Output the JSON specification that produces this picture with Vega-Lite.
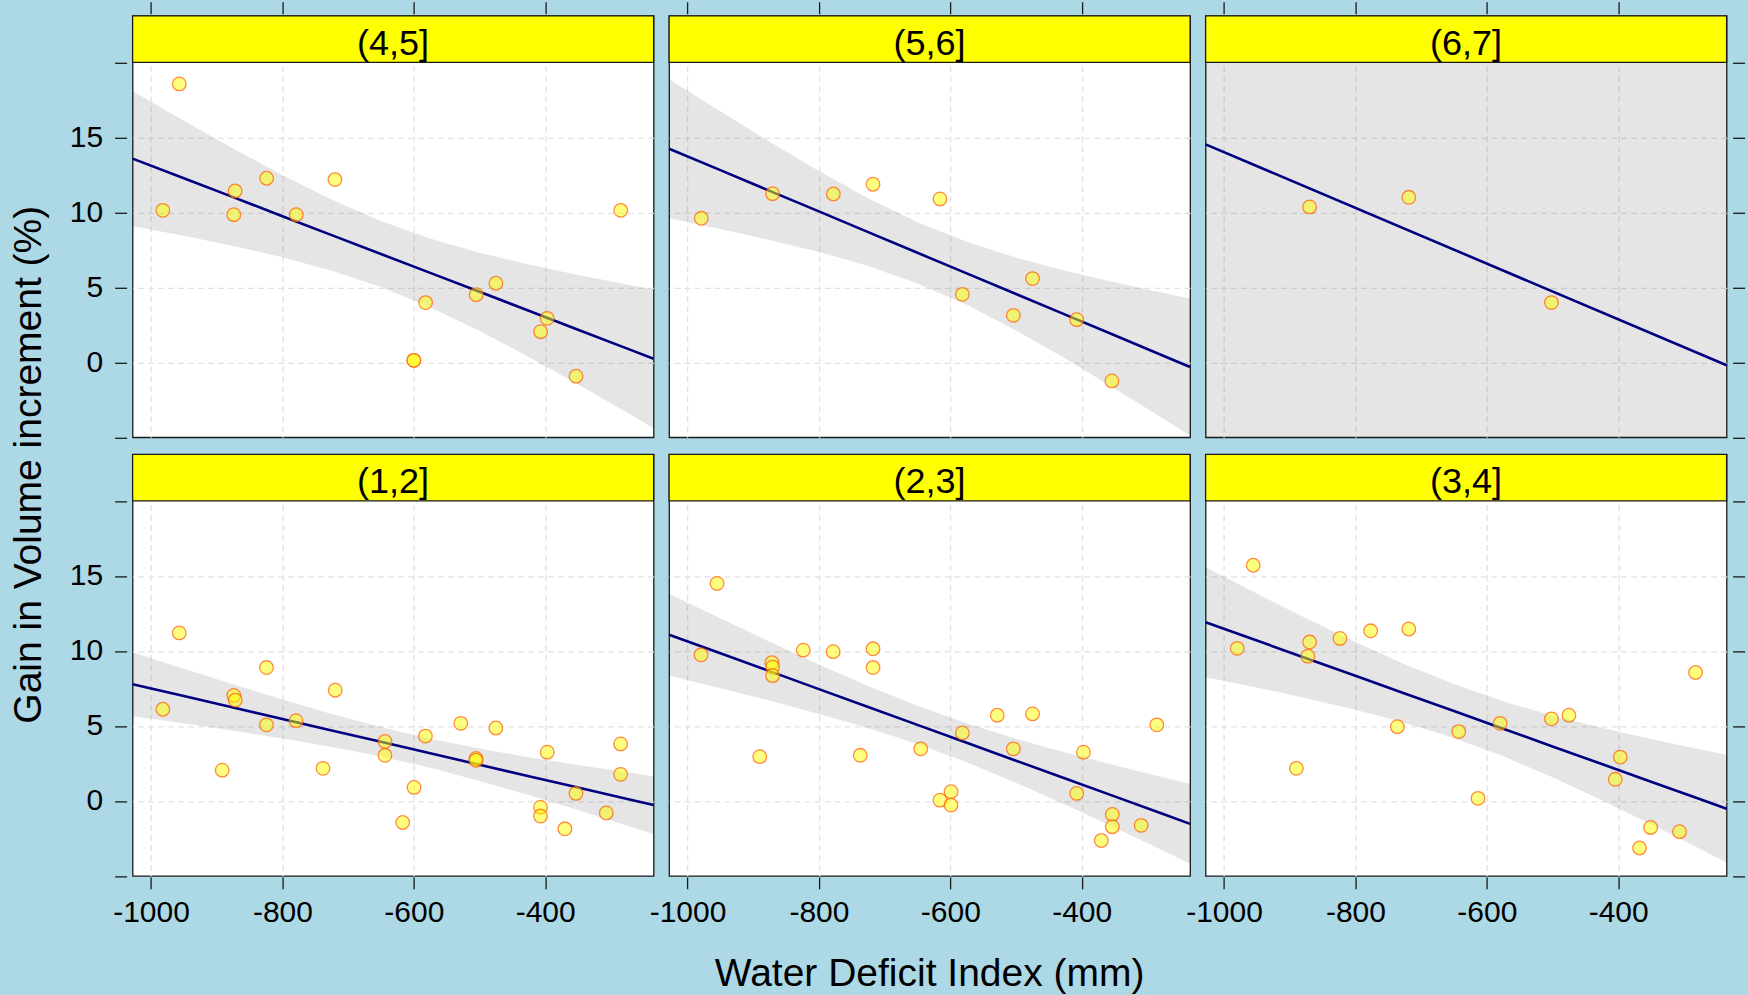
{
  "$schema": "https://vega.github.io/schema/vega-lite/v6.json",
  "background": "#add8e6",
  "padding": {"left": 9.6, "top": 0.8, "right": 5, "bottom": 2},
  "title": {"text": "Gain in Volume increment (%)", "orient": "left", "anchor": "middle", "fontSize": 39, "font": "Liberation Sans", "fontWeight": "normal", "color": "black", "offset": 20, "dx": 33},
  "data": {"values": [
    {"panel": "(4,5]", "kind": "strip"}, {"panel": "(5,6]", "kind": "strip"}, {"panel": "(6,7]", "kind": "strip"},
    {"panel": "(1,2]", "kind": "strip"}, {"panel": "(2,3]", "kind": "strip"}, {"panel": "(3,4]", "kind": "strip"},

    {"panel": "(4,5]", "kind": "pt", "x": -957, "y": 18.56},
    {"panel": "(4,5]", "kind": "pt", "x": -982, "y": 10.13},
    {"panel": "(4,5]", "kind": "pt", "x": -872, "y": 11.42},
    {"panel": "(4,5]", "kind": "pt", "x": -874, "y": 9.84},
    {"panel": "(4,5]", "kind": "pt", "x": -824, "y": 12.27},
    {"panel": "(4,5]", "kind": "pt", "x": -779, "y": 9.84},
    {"panel": "(4,5]", "kind": "pt", "x": -720, "y": 12.18},
    {"panel": "(4,5]", "kind": "pt", "x": -582, "y": 3.98},
    {"panel": "(4,5]", "kind": "pt", "x": -600, "y": 0.13},
    {"panel": "(4,5]", "kind": "pt", "x": -600, "y": 0.13},
    {"panel": "(4,5]", "kind": "pt", "x": -505, "y": 4.51},
    {"panel": "(4,5]", "kind": "pt", "x": -475, "y": 5.27},
    {"panel": "(4,5]", "kind": "pt", "x": -407, "y": 2.04},
    {"panel": "(4,5]", "kind": "pt", "x": -397, "y": 2.93},
    {"panel": "(4,5]", "kind": "pt", "x": -353, "y": -0.93},
    {"panel": "(4,5]", "kind": "pt", "x": -285, "y": 10.13},

    {"panel": "(5,6]", "kind": "pt", "x": -979, "y": 9.6},
    {"panel": "(5,6]", "kind": "pt", "x": -870.5, "y": 11.24},
    {"panel": "(5,6]", "kind": "pt", "x": -778, "y": 11.22},
    {"panel": "(5,6]", "kind": "pt", "x": -717.6, "y": 11.87},
    {"panel": "(5,6]", "kind": "pt", "x": -615.7, "y": 10.89},
    {"panel": "(5,6]", "kind": "pt", "x": -581.6, "y": 4.53},
    {"panel": "(5,6]", "kind": "pt", "x": -504, "y": 3.13},
    {"panel": "(5,6]", "kind": "pt", "x": -474.8, "y": 5.58},
    {"panel": "(5,6]", "kind": "pt", "x": -407.6, "y": 2.84},
    {"panel": "(5,6]", "kind": "pt", "x": -354, "y": -1.24},

    {"panel": "(6,7]", "kind": "pt", "x": -869.7, "y": 10.36},
    {"panel": "(6,7]", "kind": "pt", "x": -718.7, "y": 11.0},
    {"panel": "(6,7]", "kind": "pt", "x": -501.6, "y": 3.98},

    {"panel": "(1,2]", "kind": "pt", "x": -957, "y": 11.2},
    {"panel": "(1,2]", "kind": "pt", "x": -982, "y": 6.11},
    {"panel": "(1,2]", "kind": "pt", "x": -891.6, "y": 2.05},
    {"panel": "(1,2]", "kind": "pt", "x": -874, "y": 7.03},
    {"panel": "(1,2]", "kind": "pt", "x": -871.7, "y": 6.72},
    {"panel": "(1,2]", "kind": "pt", "x": -824.2, "y": 8.89},
    {"panel": "(1,2]", "kind": "pt", "x": -824.2, "y": 5.07},
    {"panel": "(1,2]", "kind": "pt", "x": -779.3, "y": 5.35},
    {"panel": "(1,2]", "kind": "pt", "x": -738.2, "y": 2.17},
    {"panel": "(1,2]", "kind": "pt", "x": -719.6, "y": 7.38},
    {"panel": "(1,2]", "kind": "pt", "x": -643.9, "y": 3.96},
    {"panel": "(1,2]", "kind": "pt", "x": -643.9, "y": 3.04},
    {"panel": "(1,2]", "kind": "pt", "x": -616.9, "y": -1.44},
    {"panel": "(1,2]", "kind": "pt", "x": -599.6, "y": 0.9},
    {"panel": "(1,2]", "kind": "pt", "x": -582.3, "y": 4.32},
    {"panel": "(1,2]", "kind": "pt", "x": -528.4, "y": 5.17},
    {"panel": "(1,2]", "kind": "pt", "x": -505.3, "y": 2.83},
    {"panel": "(1,2]", "kind": "pt", "x": -505.3, "y": 2.71},
    {"panel": "(1,2]", "kind": "pt", "x": -475.1, "y": 4.86},
    {"panel": "(1,2]", "kind": "pt", "x": -407.1, "y": -0.42},
    {"panel": "(1,2]", "kind": "pt", "x": -407.1, "y": -1.01},
    {"panel": "(1,2]", "kind": "pt", "x": -396.9, "y": 3.25},
    {"panel": "(1,2]", "kind": "pt", "x": -370, "y": -1.86},
    {"panel": "(1,2]", "kind": "pt", "x": -353.2, "y": 0.5},
    {"panel": "(1,2]", "kind": "pt", "x": -307, "y": -0.8},
    {"panel": "(1,2]", "kind": "pt", "x": -285.2, "y": 3.8},
    {"panel": "(1,2]", "kind": "pt", "x": -285.2, "y": 1.77},

    {"panel": "(2,3]", "kind": "pt", "x": -955, "y": 14.5},
    {"panel": "(2,3]", "kind": "pt", "x": -979.4, "y": 9.74},
    {"panel": "(2,3]", "kind": "pt", "x": -871.5, "y": 9.22},
    {"panel": "(2,3]", "kind": "pt", "x": -870.5, "y": 8.92},
    {"panel": "(2,3]", "kind": "pt", "x": -870.5, "y": 8.35},
    {"panel": "(2,3]", "kind": "pt", "x": -823.8, "y": 10.05},
    {"panel": "(2,3]", "kind": "pt", "x": -778.3, "y": 9.95},
    {"panel": "(2,3]", "kind": "pt", "x": -717.6, "y": 10.14},
    {"panel": "(2,3]", "kind": "pt", "x": -717.6, "y": 8.89},
    {"panel": "(2,3]", "kind": "pt", "x": -890, "y": 2.95},
    {"panel": "(2,3]", "kind": "pt", "x": -737.1, "y": 3.04},
    {"panel": "(2,3]", "kind": "pt", "x": -645, "y": 3.47},
    {"panel": "(2,3]", "kind": "pt", "x": -615.7, "y": 0.05},
    {"panel": "(2,3]", "kind": "pt", "x": -598.9, "y": 0.61},
    {"panel": "(2,3]", "kind": "pt", "x": -598.9, "y": -0.28},
    {"panel": "(2,3]", "kind": "pt", "x": -581.6, "y": 4.53},
    {"panel": "(2,3]", "kind": "pt", "x": -528.5, "y": 5.71},
    {"panel": "(2,3]", "kind": "pt", "x": -504, "y": 3.47},
    {"panel": "(2,3]", "kind": "pt", "x": -474.8, "y": 5.8},
    {"panel": "(2,3]", "kind": "pt", "x": -407.6, "y": 0.5},
    {"panel": "(2,3]", "kind": "pt", "x": -397.3, "y": 3.25},
    {"panel": "(2,3]", "kind": "pt", "x": -353.4, "y": -0.9},
    {"panel": "(2,3]", "kind": "pt", "x": -353.4, "y": -1.72},
    {"panel": "(2,3]", "kind": "pt", "x": -370.2, "y": -2.64},
    {"panel": "(2,3]", "kind": "pt", "x": -309.5, "y": -1.63},
    {"panel": "(2,3]", "kind": "pt", "x": -285.6, "y": 5.07},

    {"panel": "(3,4]", "kind": "pt", "x": -955.5, "y": 15.71},
    {"panel": "(3,4]", "kind": "pt", "x": -979.9, "y": 10.17},
    {"panel": "(3,4]", "kind": "pt", "x": -869.7, "y": 10.59},
    {"panel": "(3,4]", "kind": "pt", "x": -872.4, "y": 9.65},
    {"panel": "(3,4]", "kind": "pt", "x": -823.5, "y": 10.83},
    {"panel": "(3,4]", "kind": "pt", "x": -776.8, "y": 11.34},
    {"panel": "(3,4]", "kind": "pt", "x": -718.7, "y": 11.46},
    {"panel": "(3,4]", "kind": "pt", "x": -889.8, "y": 2.17},
    {"panel": "(3,4]", "kind": "pt", "x": -736.1, "y": 4.95},
    {"panel": "(3,4]", "kind": "pt", "x": -642.7, "y": 4.62},
    {"panel": "(3,4]", "kind": "pt", "x": -613.4, "y": 0.17},
    {"panel": "(3,4]", "kind": "pt", "x": -579.7, "y": 5.17},
    {"panel": "(3,4]", "kind": "pt", "x": -501.6, "y": 5.47},
    {"panel": "(3,4]", "kind": "pt", "x": -475, "y": 5.71},
    {"panel": "(3,4]", "kind": "pt", "x": -404.4, "y": 1.44},
    {"panel": "(3,4]", "kind": "pt", "x": -396.8, "y": 2.92},
    {"panel": "(3,4]", "kind": "pt", "x": -367.5, "y": -3.14},
    {"panel": "(3,4]", "kind": "pt", "x": -350.6, "y": -1.77},
    {"panel": "(3,4]", "kind": "pt", "x": -306.6, "y": -2.05},
    {"panel": "(3,4]", "kind": "pt", "x": -282.2, "y": 8.56},

    {"panel": "(4,5]", "kind": "fit", "x": -1028, "fit": 13.58, "lo": 9.07, "hi": 18.09},
    {"panel": "(4,5]", "kind": "fit", "x": -950, "fit": 12.27, "lo": 8.43, "hi": 16.11},
    {"panel": "(4,5]", "kind": "fit", "x": -875, "fit": 11.01, "lo": 7.76, "hi": 14.26},
    {"panel": "(4,5]", "kind": "fit", "x": -800, "fit": 9.74, "lo": 7.0, "hi": 12.48},
    {"panel": "(4,5]", "kind": "fit", "x": -725, "fit": 8.48, "lo": 6.11, "hi": 10.85},
    {"panel": "(4,5]", "kind": "fit", "x": -650, "fit": 7.22, "lo": 5.02, "hi": 9.42},
    {"panel": "(4,5]", "kind": "fit", "x": -575, "fit": 5.96, "lo": 3.67, "hi": 8.25},
    {"panel": "(4,5]", "kind": "fit", "x": -500, "fit": 4.7, "lo": 2.09, "hi": 7.31},
    {"panel": "(4,5]", "kind": "fit", "x": -425, "fit": 3.44, "lo": 0.36, "hi": 6.52},
    {"panel": "(4,5]", "kind": "fit", "x": -350, "fit": 2.17, "lo": -1.48, "hi": 5.82},
    {"panel": "(4,5]", "kind": "fit", "x": -275, "fit": 0.91, "lo": -3.37, "hi": 5.19},
    {"panel": "(4,5]", "kind": "fit", "x": -235, "fit": 0.24, "lo": -4.39, "hi": 4.87},

    {"panel": "(5,6]", "kind": "fit", "x": -1028, "fit": 14.24, "lo": 9.61, "hi": 18.87},
    {"panel": "(5,6]", "kind": "fit", "x": -950, "fit": 12.81, "lo": 8.89, "hi": 16.73},
    {"panel": "(5,6]", "kind": "fit", "x": -875, "fit": 11.43, "lo": 8.16, "hi": 14.7},
    {"panel": "(5,6]", "kind": "fit", "x": -800, "fit": 10.06, "lo": 7.36, "hi": 12.76},
    {"panel": "(5,6]", "kind": "fit", "x": -725, "fit": 8.68, "lo": 6.42, "hi": 10.94},
    {"panel": "(5,6]", "kind": "fit", "x": -650, "fit": 7.3, "lo": 5.26, "hi": 9.34},
    {"panel": "(5,6]", "kind": "fit", "x": -575, "fit": 5.93, "lo": 3.83, "hi": 8.03},
    {"panel": "(5,6]", "kind": "fit", "x": -500, "fit": 4.55, "lo": 2.12, "hi": 6.98},
    {"panel": "(5,6]", "kind": "fit", "x": -425, "fit": 3.18, "lo": 0.25, "hi": 6.11},
    {"panel": "(5,6]", "kind": "fit", "x": -350, "fit": 1.8, "lo": -1.74, "hi": 5.34},
    {"panel": "(5,6]", "kind": "fit", "x": -275, "fit": 0.42, "lo": -3.78, "hi": 4.62},
    {"panel": "(5,6]", "kind": "fit", "x": -235, "fit": -0.31, "lo": -4.88, "hi": 4.26},

    {"panel": "(6,7]", "kind": "fit", "x": -1028, "fit": 14.53, "lo": -5, "hi": 20},
    {"panel": "(6,7]", "kind": "fit", "x": -235, "fit": -0.2, "lo": -5, "hi": 20},

    {"panel": "(1,2]", "kind": "fit", "x": -1028, "fit": 7.78, "lo": 5.65, "hi": 9.91},
    {"panel": "(1,2]", "kind": "fit", "x": -950, "fit": 6.99, "lo": 5.17, "hi": 8.81},
    {"panel": "(1,2]", "kind": "fit", "x": -875, "fit": 6.23, "lo": 4.68, "hi": 7.78},
    {"panel": "(1,2]", "kind": "fit", "x": -800, "fit": 5.46, "lo": 4.16, "hi": 6.76},
    {"panel": "(1,2]", "kind": "fit", "x": -725, "fit": 4.7, "lo": 3.6, "hi": 5.8},
    {"panel": "(1,2]", "kind": "fit", "x": -650, "fit": 3.94, "lo": 2.96, "hi": 4.92},
    {"panel": "(1,2]", "kind": "fit", "x": -575, "fit": 3.18, "lo": 2.21, "hi": 4.15},
    {"panel": "(1,2]", "kind": "fit", "x": -500, "fit": 2.41, "lo": 1.33, "hi": 3.49},
    {"panel": "(1,2]", "kind": "fit", "x": -425, "fit": 1.65, "lo": 0.39, "hi": 2.91},
    {"panel": "(1,2]", "kind": "fit", "x": -350, "fit": 0.89, "lo": -0.61, "hi": 2.39},
    {"panel": "(1,2]", "kind": "fit", "x": -275, "fit": 0.13, "lo": -1.65, "hi": 1.91},
    {"panel": "(1,2]", "kind": "fit", "x": -235, "fit": -0.28, "lo": -2.21, "hi": 1.65},

    {"panel": "(2,3]", "kind": "fit", "x": -1028, "fit": 11.08, "lo": 8.35, "hi": 13.81},
    {"panel": "(2,3]", "kind": "fit", "x": -950, "fit": 9.84, "lo": 7.51, "hi": 12.17},
    {"panel": "(2,3]", "kind": "fit", "x": -875, "fit": 8.65, "lo": 6.69, "hi": 10.61},
    {"panel": "(2,3]", "kind": "fit", "x": -800, "fit": 7.45, "lo": 5.8, "hi": 9.1},
    {"panel": "(2,3]", "kind": "fit", "x": -725, "fit": 6.26, "lo": 4.86, "hi": 7.66},
    {"panel": "(2,3]", "kind": "fit", "x": -650, "fit": 5.07, "lo": 3.8, "hi": 6.34},
    {"panel": "(2,3]", "kind": "fit", "x": -575, "fit": 3.88, "lo": 2.58, "hi": 5.18},
    {"panel": "(2,3]", "kind": "fit", "x": -500, "fit": 2.68, "lo": 1.21, "hi": 4.15},
    {"panel": "(2,3]", "kind": "fit", "x": -425, "fit": 1.49, "lo": -0.25, "hi": 3.23},
    {"panel": "(2,3]", "kind": "fit", "x": -350, "fit": 0.3, "lo": -1.78, "hi": 2.38},
    {"panel": "(2,3]", "kind": "fit", "x": -275, "fit": -0.89, "lo": -3.34, "hi": 1.56},
    {"panel": "(2,3]", "kind": "fit", "x": -235, "fit": -1.53, "lo": -4.19, "hi": 1.13},

    {"panel": "(3,4]", "kind": "fit", "x": -1028, "fit": 11.91, "lo": 8.25, "hi": 15.57},
    {"panel": "(3,4]", "kind": "fit", "x": -950, "fit": 10.69, "lo": 7.56, "hi": 13.82},
    {"panel": "(3,4]", "kind": "fit", "x": -875, "fit": 9.51, "lo": 6.85, "hi": 12.17},
    {"panel": "(3,4]", "kind": "fit", "x": -800, "fit": 8.34, "lo": 6.08, "hi": 10.6},
    {"panel": "(3,4]", "kind": "fit", "x": -725, "fit": 7.16, "lo": 5.21, "hi": 9.11},
    {"panel": "(3,4]", "kind": "fit", "x": -650, "fit": 5.99, "lo": 4.19, "hi": 7.79},
    {"panel": "(3,4]", "kind": "fit", "x": -575, "fit": 4.81, "lo": 2.97, "hi": 6.65},
    {"panel": "(3,4]", "kind": "fit", "x": -500, "fit": 3.63, "lo": 1.58, "hi": 5.68},
    {"panel": "(3,4]", "kind": "fit", "x": -425, "fit": 2.46, "lo": 0.05, "hi": 4.87},
    {"panel": "(3,4]", "kind": "fit", "x": -350, "fit": 1.28, "lo": -1.56, "hi": 4.12},
    {"panel": "(3,4]", "kind": "fit", "x": -275, "fit": 0.11, "lo": -3.21, "hi": 3.43},
    {"panel": "(3,4]", "kind": "fit", "x": -235, "fit": -0.52, "lo": -4.12, "hi": 3.08}
  ]},
  "facet": {
    "field": "panel", "type": "nominal",
    "sort": ["(4,5]", "(5,6]", "(6,7]", "(1,2]", "(2,3]", "(3,4]"],
    "header": {"labels": false, "labelFontSize": 0, "labelPadding": 0, "labelExpr": "''", "title": "Water Deficit Index (mm)", "titleOrient": "bottom", "titleAnchor": "middle", "titleFont": "Liberation Sans", "titleFontSize": 39, "titleFontWeight": "normal", "titleColor": "black", "titlePadding": 27.5}
  },
  "columns": 3,
  "spacing": {"row": 13.6, "column": 3.5},
  "spec": {
    "width": 521,
    "height": 421.5,
    "layer": [
      {
        "transform": [{"filter": "datum.kind == 'fit'"}],
        "mark": {"type": "area", "fill": "#000000", "fillOpacity": 0.1},
        "encoding": {
          "x": {"field": "x", "type": "quantitative", "scale": {"domain": [-1028, -235], "nice": false, "zero": false},
                "axis": {"orient": "bottom", "title": null, "values": [-1000, -800, -600, -400], "grid": true, "gridDash": [6, 4], "gridColor": "#e2e2e2", "gridWidth": 1.3, "labelExpr": "'' + datum.value", "labelFlush": false, "labelOverlap": false, "labelPadding": 8.5}},
          "y": {"field": "lo", "type": "quantitative", "scale": {"domain": [-5, 23.1], "nice": false, "zero": false},
                "axis": {"orient": "left", "title": null, "values": [-5, 0, 5, 10, 15, 20], "grid": false, "labelExpr": "datum.value < 0 || datum.value > 17 ? '' : '' + datum.value", "labelOverlap": false, "labelFlush": false, "labelPadding": 12}},
          "y2": {"field": "hi"}
        }
      },
      {
        "transform": [{"filter": "datum.kind == 'fit'"}],
        "mark": {"type": "line", "color": "#000080", "strokeWidth": 2.6},
        "encoding": {
          "x": {"field": "x", "type": "quantitative",
                "axis": {"orient": "top", "title": null, "values": [-1000, -800, -600, -400], "labels": false, "grid": false}},
          "y": {"field": "fit", "type": "quantitative",
                "axis": {"orient": "right", "title": null, "values": [-5, 0, 5, 10, 15, 20], "labels": false, "grid": true, "gridDash": [6, 4], "gridColor": "#e2e2e2", "gridWidth": 1.3,
                         "gridOpacity": {"condition": {"test": "datum.value < 0 || datum.value > 17", "value": 0}, "value": 1}}}
        }
      },
      {
        "transform": [{"filter": "datum.kind == 'pt'"}],
        "mark": {"type": "point", "shape": "circle", "filled": false, "fill": "#ffff00", "fillOpacity": 0.5, "stroke": "#ff5a00", "strokeOpacity": 0.7, "strokeWidth": 1.3, "size": 185},
        "encoding": {
          "x": {"field": "x", "type": "quantitative", "axis": null},
          "y": {"field": "y", "type": "quantitative", "axis": null}
        }
      },
      {
        "transform": [{"filter": "datum.kind == 'strip'"}],
        "mark": {"type": "rect", "fill": "#ffff00", "stroke": "#1a1a1a", "strokeWidth": 1.3},
        "encoding": {
          "x": {"datum": -1028, "type": "quantitative", "axis": null},
          "x2": {"datum": -235},
          "y": {"datum": 20, "type": "quantitative", "axis": null},
          "y2": {"datum": 23.1}
        }
      },
      {
        "transform": [{"filter": "datum.kind == 'strip'"}],
        "mark": {"type": "text", "font": "Liberation Sans", "fontSize": 36, "color": "black", "align": "center", "baseline": "middle"},
        "encoding": {
          "x": {"datum": -631.5, "type": "quantitative", "axis": null},
          "y": {"datum": 21.25, "type": "quantitative", "axis": null},
          "text": {"field": "panel"}
        }
      }
    ]
  },
  "config": {
    "view": {"fill": "white", "stroke": "#1a1a1a", "strokeWidth": 1.3},
    "header": {"labels": false, "labelFontSize": 0, "labelPadding": 0},
    "axis": {"domain": false, "ticks": true, "tickColor": "#1a1a1a", "tickWidth": 1.3, "tickSize": 12, "labelFont": "Liberation Sans", "labelFontSize": 30, "labelColor": "black", "labelPadding": 14}
  }
}
